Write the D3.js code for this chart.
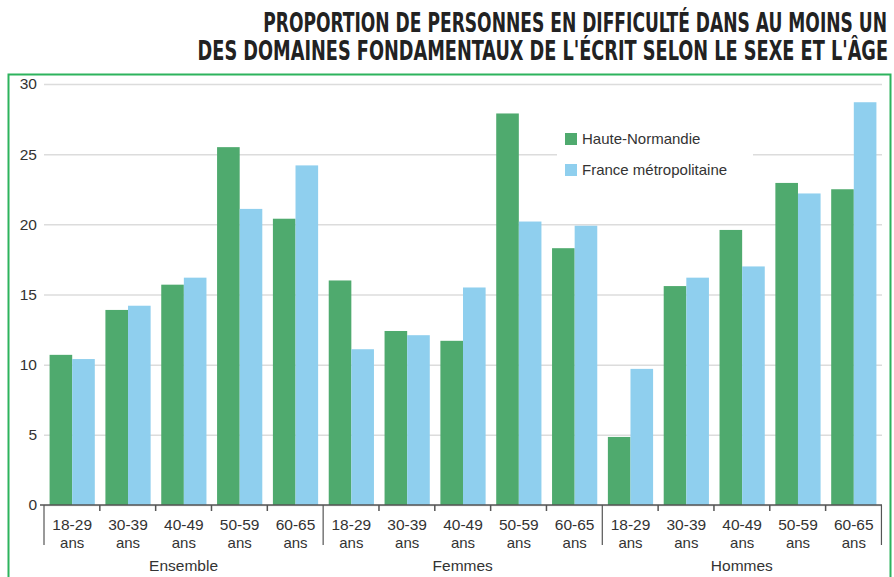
<!DOCTYPE html>
<html>
<head>
<meta charset="utf-8">
<script src="https://cdn.jsdelivr.net/npm/d3@7"></script>
<style>
  body { margin: 0; background: #fff; }
  svg { display: block; font-family: "Liberation Sans", Arial, sans-serif; }
</style>
</head>
<body>
<svg width="894" height="577"></svg>
<script>
var groups = ["Ensemble", "Femmes", "Hommes"];
var ages = ["18-29", "30-39", "40-49", "50-59", "60-65"];
var series = ["Haute-Normandie", "France métropolitaine"];
var hauteNormandie = [10.7, 13.9, 15.7, 25.5, 20.4,
                      16.0, 12.4, 11.7, 27.9, 18.3,
                      4.85, 15.6, 19.6, 22.95, 22.5];
var franceMetro = [10.4, 14.2, 16.2, 21.1, 24.2,
                   11.1, 12.1, 15.5, 20.2, 19.9,
                   9.7, 16.2, 17.0, 22.2, 28.7];
var yTicks = [0, 5, 10, 15, 20, 25, 30];
var titleLines = ["PROPORTION DE PERSONNES EN DIFFICULTÉ DANS AU MOINS UN",
                  "DES DOMAINES FONDAMENTAUX DE L'ÉCRIT SELON LE SEXE ET L'ÂGE"];
var colors = ["#4faa6e", "#8fcfee"];

var svg = d3.select("svg");

// one slot per group/age couple
var slots = [];
groups.forEach(function(g, gi) {
  ages.forEach(function(a, ai) {
    var i = gi * ages.length + ai;
    slots.push({key: g + "|" + a, group: g, age: a, values: [hauteNormandie[i], franceMetro[i]]});
  });
});

var plot = {left: 44, right: 882, top: 84, bottom: 505};

var x = d3.scaleBand()
    .domain(slots.map(function(d) { return d.key; }))
    .range([plot.left, plot.right])
    .paddingInner(0.19)
    .paddingOuter(0.1);
var xs = d3.scaleBand().domain([0, 1]).range([0, x.bandwidth()]);
var y = d3.scaleLinear().domain([0, 30]).range([plot.bottom, plot.top]);

// title, squeezed horizontally to look condensed
var titleWidths = [624, 691];
titleLines.forEach(function(t, i) {
  var txt = svg.append("text")
      .attr("font-family", "'Liberation Sans Narrow', 'DejaVu Sans Condensed', 'Liberation Sans', sans-serif")
      .attr("font-weight", "bold")
      .attr("font-size", 26)
      .attr("fill", "#222")
      .attr("text-anchor", "end")
      .text(t);
  var len = txt.node().getComputedTextLength();
  txt.attr("transform", "translate(" + (887 + i) + "," + (32 + i * 28) + ") scale(" + (titleWidths[i] / len) + ",1)");
});

// frame
svg.append("rect")
    .attr("x", 8.5).attr("y", 74.5).attr("width", 882).attr("height", 520)
    .attr("fill", "none").attr("stroke", "#2db35d").attr("stroke-width", 2);

// y axis with grid
var yAxis = svg.append("g")
    .attr("transform", "translate(" + plot.left + ",0)")
    .call(d3.axisLeft(y).tickValues(yTicks).tickSize(-(plot.right - plot.left)).tickPadding(7));
yAxis.select(".domain").remove();
yAxis.selectAll(".tick line").attr("stroke", "#dcdcdc").attr("stroke-width", 1.5);
yAxis.selectAll(".tick text")
    .attr("font-size", 15.5).attr("fill", "#333").attr("font-family", "'Liberation Sans', Arial, sans-serif");

// bars
var bars = svg.append("g").selectAll("g")
    .data(slots).enter().append("g")
    .attr("transform", function(d) { return "translate(" + x(d.key) + ",0)"; });
bars.selectAll("rect")
    .data(function(d) { return d.values; })
    .enter().append("rect")
    .attr("x", function(d, i) { return xs(i); })
    .attr("width", xs.bandwidth())
    .attr("y", function(d) { return y(d); })
    .attr("height", function(d) { return y(0) - y(d); })
    .attr("fill", function(d, i) { return colors[i]; });

// x axis
var step = x.step();
var axis = svg.append("g").attr("stroke", "#555").attr("stroke-width", 1.5);
axis.append("line")
    .attr("x1", plot.left - 4).attr("x2", plot.right)
    .attr("y1", y(0)).attr("y2", y(0));
d3.range(slots.length + 1).forEach(function(i) {
  var xx = plot.left + i * step;
  var major = i % ages.length === 0;
  axis.append("line")
      .attr("x1", xx).attr("x2", xx)
      .attr("y1", y(0)).attr("y2", y(0) + (major ? 40 : 6))
      .attr("stroke-width", major ? 1.2 : 1.5);
});

var labels = svg.append("g").attr("font-size", 15).attr("fill", "#333").attr("text-anchor", "middle");
slots.forEach(function(d) {
  var cx = x(d.key) + x.bandwidth() / 2;
  labels.append("text").attr("x", cx).attr("y", 530).attr("font-size", 15.5).text(d.age);
  labels.append("text").attr("x", cx).attr("y", 547.5).text("ans");
});
groups.forEach(function(g, gi) {
  labels.append("text")
      .attr("x", plot.left + (gi + 0.5) * ages.length * step)
      .attr("y", 571)
      .attr("font-size", 15.5)
      .text(g);
});

// legend
var legend = svg.append("g");
legend.append("rect")
    .attr("x", 557).attr("y", 124).attr("width", 196).attr("height", 60).attr("fill", "#fff");
series.forEach(function(s, i) {
  var ly = 139 + i * 31;
  legend.append("rect")
      .attr("x", 565).attr("y", ly - 6).attr("width", 12).attr("height", 12)
      .attr("fill", colors[i]);
  legend.append("text")
      .attr("x", 582).attr("y", ly + 5)
      .attr("font-size", 15).attr("fill", "#333")
      .text(s);
});
</script>
</body>
</html>
